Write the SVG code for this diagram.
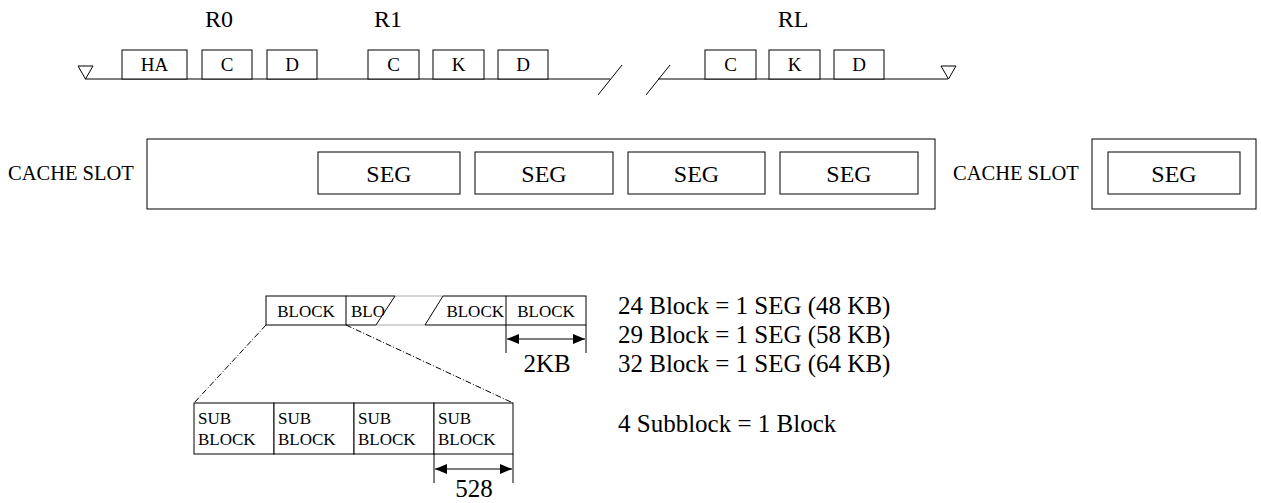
<svg xmlns="http://www.w3.org/2000/svg" width="1261" height="503" viewBox="0 0 1261 503">
<defs>
<style>
text{font-family:"Liberation Serif","Times New Roman",serif;fill:#000}
.lab{font-size:24px}
.bx{font-size:19px}
.seg{font-size:24px}
.cs{font-size:20.5px}
.blk{font-size:17px}
.note{font-size:25px}
.box{fill:#fff;stroke:#000;stroke-width:1}
.ln{fill:none;stroke:#000;stroke-width:1}
.gr{fill:none;stroke:#aaa;stroke-width:1}
.dd{fill:none;stroke:#000;stroke-width:1;stroke-dasharray:6 2 1 2}
</style>
<marker id="ah" markerWidth="12" markerHeight="10" refX="12" refY="5" orient="auto-start-reverse" markerUnits="userSpaceOnUse">
<path d="M0,0 L12,5 L0,10 Z" fill="#000"/>
</marker>
</defs>
<rect width="1261" height="503" fill="#fff"/>

<g id="track">
<line class="ln" x1="85" y1="79" x2="610" y2="79"/>
<line class="ln" x1="658" y1="79" x2="948" y2="79"/>
<line class="ln" x1="598" y1="95" x2="622" y2="65"/>
<line class="ln" x1="646" y1="95" x2="670" y2="65"/>
<polygon class="ln" points="78,66 93,66 85.5,79"/>
<polygon class="ln" points="941,66 956,66 948.5,79"/>
</g>

<g id="r0">
<text class="lab" x="219" y="27" text-anchor="middle">R0</text>
<rect class="box" x="122" y="50" width="65" height="29"/>
<text class="bx" x="154.5" y="71" text-anchor="middle">HA</text>
<rect class="box" x="202" y="50" width="50" height="29"/>
<text class="bx" x="227" y="71" text-anchor="middle">C</text>
<rect class="box" x="267" y="50" width="50" height="29"/>
<text class="bx" x="292" y="71" text-anchor="middle">D</text>
</g>

<g id="r1">
<text class="lab" x="388" y="27" text-anchor="middle">R1</text>
<rect class="box" x="368" y="50" width="51" height="29"/>
<text class="bx" x="393.5" y="71" text-anchor="middle">C</text>
<rect class="box" x="433" y="50" width="51" height="29"/>
<text class="bx" x="458.5" y="71" text-anchor="middle">K</text>
<rect class="box" x="498" y="50" width="50" height="29"/>
<text class="bx" x="523" y="71" text-anchor="middle">D</text>
</g>

<g id="rl">
<text class="lab" x="793" y="27" text-anchor="middle">RL</text>
<rect class="box" x="705" y="50" width="51" height="29"/>
<text class="bx" x="730.5" y="71" text-anchor="middle">C</text>
<rect class="box" x="769" y="50" width="51" height="29"/>
<text class="bx" x="794.5" y="71" text-anchor="middle">K</text>
<rect class="box" x="834" y="50" width="50" height="29"/>
<text class="bx" x="859" y="71" text-anchor="middle">D</text>
</g>

<g id="cache1">
<text class="cs" x="8" y="180">CACHE SLOT</text>
<rect class="box" x="147" y="139" width="788" height="70"/>
<rect class="box" x="318" y="152" width="142" height="42"/>
<text class="seg" x="389" y="182" text-anchor="middle">SEG</text>
<rect class="box" x="475" y="152" width="138" height="42"/>
<text class="seg" x="544" y="182" text-anchor="middle">SEG</text>
<rect class="box" x="628" y="152" width="137" height="42"/>
<text class="seg" x="696.5" y="182" text-anchor="middle">SEG</text>
<rect class="box" x="780" y="152" width="138" height="42"/>
<text class="seg" x="849" y="182" text-anchor="middle">SEG</text>
</g>

<g id="cache2">
<text class="cs" x="953" y="180">CACHE SLOT</text>
<rect class="box" x="1092" y="139" width="164" height="70"/>
<rect class="box" x="1108" y="152" width="132" height="42"/>
<text class="seg" x="1174" y="182" text-anchor="middle">SEG</text>
</g>

<g id="blocks">
<rect class="box" x="266" y="296" width="80" height="29"/>
<text class="blk" x="306" y="317" text-anchor="middle">BLOCK</text>
<line class="ln" x1="346" y1="296" x2="395" y2="296"/>
<line class="ln" x1="346" y1="325" x2="376" y2="325"/>
<line class="gr" x1="395" y1="296" x2="443" y2="296"/>
<line class="gr" x1="376" y1="325" x2="425" y2="325"/>
<text class="blk" x="351" y="317">BLO</text>
<line class="ln" x1="376" y1="325" x2="395" y2="296"/>
<line class="ln" x1="425" y1="325" x2="443" y2="296"/>
<line class="ln" x1="443" y1="296" x2="506" y2="296"/>
<line class="ln" x1="425" y1="325" x2="506" y2="325"/>
<text class="blk" x="504" y="317" text-anchor="end">BLOCK</text>
<rect class="box" x="506" y="296" width="80" height="29"/>
<text class="blk" x="546" y="317" text-anchor="middle">BLOCK</text>
<line class="ln" x1="506" y1="325" x2="506" y2="353"/>
<line class="ln" x1="586" y1="325" x2="586" y2="353"/>
<line class="ln" x1="507" y1="339" x2="585" y2="339" marker-start="url(#ah)" marker-end="url(#ah)"/>
<text class="note" x="547" y="372" text-anchor="middle">2KB</text>
</g>

<g id="connectors">
<line class="dd" x1="266" y1="325" x2="194" y2="403"/>
<line class="dd" x1="346" y1="325" x2="513" y2="403"/>
</g>

<g id="subblocks">
<rect class="box" x="194" y="403" width="80" height="51"/>
<rect class="box" x="274" y="403" width="80" height="51"/>
<rect class="box" x="354" y="403" width="80" height="51"/>
<rect class="box" x="434" y="403" width="79" height="51"/>
<text class="blk" x="198" y="424">SUB</text><text class="blk" x="198" y="445">BLOCK</text>
<text class="blk" x="278" y="424">SUB</text><text class="blk" x="278" y="445">BLOCK</text>
<text class="blk" x="358" y="424">SUB</text><text class="blk" x="358" y="445">BLOCK</text>
<text class="blk" x="438" y="424">SUB</text><text class="blk" x="438" y="445">BLOCK</text>
<line class="ln" x1="434" y1="454" x2="434" y2="483"/>
<line class="ln" x1="513" y1="454" x2="513" y2="483"/>
<line class="ln" x1="435" y1="469" x2="512" y2="469" marker-start="url(#ah)" marker-end="url(#ah)"/>
<text class="note" x="474" y="497" text-anchor="middle">528</text>
</g>

<g id="notes">
<text class="note" x="618" y="314">24 Block = 1 SEG (48 KB)</text>
<text class="note" x="618" y="343">29 Block = 1 SEG (58 KB)</text>
<text class="note" x="618" y="372">32 Block = 1 SEG (64 KB)</text>
<text class="note" x="618" y="432">4 Subblock = 1 Block</text>
</g>
</svg>
